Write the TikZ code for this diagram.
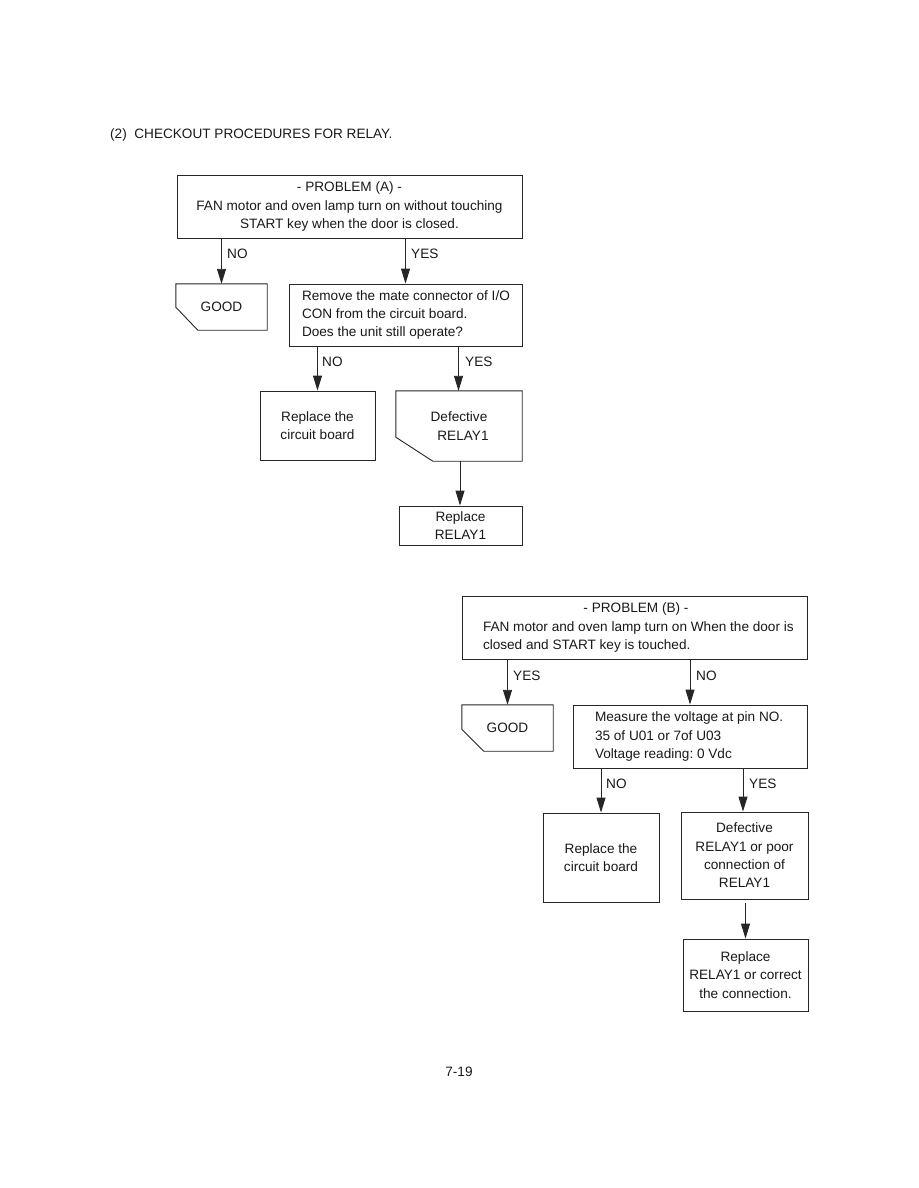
\documentclass[tikz,border=0pt]{standalone}
\usepackage{fontspec}
\setmainfont{Liberation Sans}
\usetikzlibrary{arrows.meta}
\begin{document}
\frenchspacing
\begin{tikzpicture}[x=1pt,y=-1pt,
  every node/.style={font=\fontsize{13.6}{18.3}\selectfont, text=black!90},
  box/.style={draw=black!85, line width=0.9pt, inner sep=0pt, align=center},
  plain/.style={inner sep=0pt, align=center},
  cutline/.style={draw=black!85, line width=0.9pt},
  arr/.style={draw=black!85, line width=0.9pt, -{Triangle[length=15pt,width=9pt]}},
  lab/.style={anchor=west, inner sep=0pt}]
\path[fill=white] (0,0) rectangle (918,1188);

\node[anchor=west, inner sep=0pt] (title) at (110,135) {(2)\ \ CHECKOUT PROCEDURES FOR RELAY.};

% ---------- Problem A ----------
\node[box, minimum width=345pt, minimum height=63pt] (probA) at (349.5,206.5)
  {- PROBLEM (A) -\\FAN motor and oven lamp turn on without touching\\START key when the door is closed.};
\node[plain, minimum width=91pt, minimum height=46pt] (goodA) at (221.5,307) {GOOD};
\draw[cutline] (goodA.north west) -- (goodA.north east) -- (goodA.south east)
  -- ([xshift=22pt]goodA.south west) -- ([yshift=23pt]goodA.south west) -- cycle;
\node[box, minimum width=233pt, minimum height=62pt] (remA) at (405.5,315)
  {\makebox[207pt][l]{Remove the mate connector of I/O}\\\makebox[207pt][l]{CON from the circuit board.}\\\makebox[207pt][l]{Does the unit still operate?}};
\node[box, minimum width=115pt, minimum height=69pt] (circA) at (317.5,425.5)
  {Replace the\\circuit board};
\node[plain, minimum width=126pt, minimum height=70pt] (defA) at (459,426)
  {Defective\\\hspace*{8pt}RELAY1};
\draw[cutline] (defA.north west) -- (defA.north east) -- (defA.south east)
  -- ([xshift=37pt]defA.south west) -- ([yshift=24pt]defA.south west) -- cycle;
\node[box, minimum width=123pt, minimum height=39pt] (relA) at (460.5,525.5)
  {Replace\\RELAY1};

\draw[arr] (probA.south -| goodA.north) -- (goodA.north);
\draw[arr] (probA.south -| remA.north) -- (remA.north);
\draw[arr] (remA.south -| circA.north) -- (circA.north);
\draw[arr] ([xshift=-0.5pt]remA.south -| defA.north) -- ([xshift=-0.5pt]defA.north);
\draw[arr] ([xshift=1pt]defA.south) -- ([xshift=1pt]defA.south |- relA.north);

\node[lab] (a1) at (227,254) {NO};
\node[lab] (a2) at (411,254) {YES};
\node[lab] (a3) at (322,362) {NO};
\node[lab] (a4) at (465,362) {YES};

% ---------- Problem B ----------
\node[box, minimum width=345pt, minimum height=63pt] (probB) at (634.5,627.5)
  {\hspace*{3pt}- PROBLEM (B) -\\\makebox[303pt][l]{FAN motor and oven lamp turn on When the door is}\\\makebox[303pt][l]{closed and START key is touched.}};
\node[plain, minimum width=91pt, minimum height=46pt] (goodB) at (507.5,728) {GOOD};
\draw[cutline] (goodB.north west) -- (goodB.north east) -- (goodB.south east)
  -- ([xshift=22pt]goodB.south west) -- ([yshift=22pt]goodB.south west) -- cycle;
\node[box, minimum width=234pt, minimum height=63pt] (meas) at (690,736.5)
  {\makebox[190pt][l]{Measure the voltage at pin NO.}\\\makebox[190pt][l]{35 of U01 or 7of U03}\\\makebox[190pt][l]{Voltage reading: 0 Vdc}};
\node[box, minimum width=116pt, minimum height=89pt] (circB) at (601,857.5)
  {Replace the\\circuit board};
\node[box, minimum width=127pt, minimum height=87pt] (defB) at (744.5,855.5)
  {Defective\\RELAY1 or poor\\connection of\\RELAY1};
\node[box, minimum width=125pt, minimum height=72pt] (relB) at (745.5,975)
  {Replace\\RELAY1 or correct\\the connection.};

\draw[arr] (probB.south -| goodB.north) -- (goodB.north);
\draw[arr] (probB.south -| meas.north) -- (meas.north);
\draw[arr] (meas.south -| circB.north) -- (circB.north);
\draw[arr] ([xshift=-1.5pt]meas.south -| defB.north) -- ([xshift=-1.5pt]defB.north);
\draw[arr] ([yshift=-4pt]defB.south -| relB.north) -- (relB.north);

\node[lab] (b1) at (513,676) {YES};
\node[lab] (b2) at (696,676) {NO};
\node[lab] (b3) at (606,784) {NO};
\node[lab] (b4) at (749,784) {YES};

\node[inner sep=0pt] (page) at (459,1072) {7-19};
\end{tikzpicture}
\end{document}
